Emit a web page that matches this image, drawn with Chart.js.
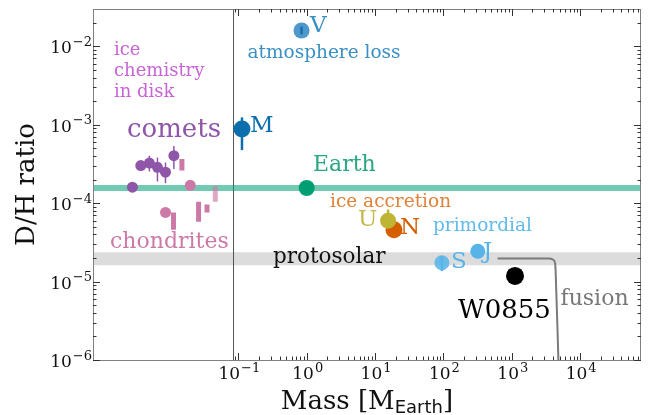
<!DOCTYPE html>
<html>
<head>
<meta charset="utf-8">
<script src="https://cdn.jsdelivr.net/npm/chart.js@4"></script>
<style>
  html, body { margin: 0; padding: 0; background: #fff; }
</style>
</head>
<body>
<canvas id="chart" width="655" height="415"></canvas>
<script>
// ---- data (mass in Earth masses, D/H ratio) ----
const cometMass = [2.82e-3, 3.74e-3, 5.0e-3, 6.56e-3, 8.6e-3, 0.0114];
const cometDH = [1.60e-4, 3.01e-4, 3.24e-4, 2.86e-4, 2.48e-4, 4.03e-4];
const cometLo = [null, null, 2.53e-4, 1.89e-4, 1.80e-4, 2.73e-4];
const cometHi = [null, null, 4.03e-4, 3.83e-4, 3.31e-4, 5.37e-4];

const chondMass = [8.6e-3, 0.0198];
const chondDH = [7.62e-5, 1.69e-4];
const chondBarMass = [0.01125, 0.01494, 0.0262, 0.0348];
const chondBarLo = [4.57e-5, 2.61e-4, 5.81e-5, 7.62e-5];
const chondBarHi = [7.62e-5, 3.65e-4, 1.04e-4, 9.6e-5];
const chondBarMass2 = [0.046];
const chondBarLo2 = [1.04e-4];
const chondBarHi2 = [1.64e-4];

const planetNames = ['V', 'M', 'Earth', 'U', 'N', 'S', 'J', 'W0855'];
const planetMass = [0.84, 0.113, 1.0, 15.5, 18.9, 95, 318, 1114];
const planetDH = [0.0159, 8.8e-4, 1.56e-4, 5.98e-5, 4.57e-5, 1.74e-5, 2.44e-5, 1.18e-5];
const planetLo = [0.0142, 4.75e-4, null, 5.0e-5, null, 1.36e-5, null, null];
const planetHi = [0.0178, 1.24e-3, null, 8.3e-5, null, 2.11e-5, null, null];

const earthDH = 1.56e-4;
const protosolarLo = 1.62e-5;
const protosolarHi = 2.36e-5;
const dividerMass = 0.085;

const fusionMass = [621, 3510, 4016, 4300, 4375, 4806];
const fusionDH = [1.97e-5, 1.97e-5, 1.9e-5, 1.72e-5, 1.36e-5, 1e-6];

const xMin = 7.48e-4, xMax = 7.76e4;
const yMin = 1e-6, yMax = 0.0299;
const xTickExp = [-1, 0, 1, 2, 3, 4];
const yTickExp = [-6, -5, -4, -3, -2];

const SERIF = '"DejaVu Serif", serif';
const SANS = '"DejaVu Sans", sans-serif';

const planetColors = ['rgba(47,134,196,0.85)', '#0b6fae', '#009e73', '#bfb535', '#d55e00',
  'rgba(86,180,233,0.85)', '#56b4e9', '#000000'];
const planetRadius = [8, 8.5, 8, 8, 8.5, 7.5, 7.5, 9];

// text labels: text, left x, visual centre y, size, colour
const notes = [
  ['ice', 114, 50, 18, '#c964d6'],
  ['chemistry', 114, 71.5, 18, '#c964d6'],
  ['in disk', 114, 92, 18, '#c964d6'],
  ['comets', 127, 130, 26, '#8e55a9'],
  ['chondrites', 110, 242.5, 22, '#cc79a7'],
  ['V', 310, 26, 23, '#3a8fc5'],
  ['atmosphere loss', 247.5, 53, 18.5, '#3a8fc5'],
  ['M', 250, 126.5, 23, '#0b6fae'],
  ['Earth', 313, 165.5, 22, '#2aa783'],
  ['ice accretion', 330, 202, 18.5, '#e0823a'],
  ['U', 358, 220, 23, '#c4b84a'],
  ['N', 400, 228, 23, '#d55e00'],
  ['primordial', 433, 226.5, 18.5, '#62b9eb'],
  ['protosolar', 273, 257.5, 21.5, '#111111'],
  ['S', 451, 262, 23, '#56b4e9'],
  ['J', 483, 252, 23, '#56b4e9'],
  ['W0855', 458, 311, 26, '#000000'],
  ['fusion', 560.5, 299, 22, '#777777']
];

function segments(xs, lo, hi) {
  const out = [];
  xs.forEach((x, i) => {
    if (lo[i] == null) return;
    out.push({x: x, y: lo[i]}, {x: x, y: hi[i]}, {x: x, y: null});
  });
  return out;
}
function pts(xs, ys) { return xs.map((x, i) => ({x: x, y: ys[i]})); }

const datasets = [];
// planets (on top)
planetNames.forEach((n, i) => {
  datasets.push({
    label: n, data: [{x: planetMass[i], y: planetDH[i]}], order: 1,
    pointRadius: planetRadius[i], pointHoverRadius: planetRadius[i],
    pointBackgroundColor: planetColors[i], pointBorderWidth: 0, showLine: false
  });
});
const errColors = ['#1d6ea8', '#0b6fae', null, '#bfb535', null, '#56b4e9', null, null];
planetNames.forEach((n, i) => {
  if (planetLo[i] == null) return;
  datasets.push({
    label: n + ' err', data: segments([planetMass[i]], [planetLo[i]], [planetHi[i]]),
    order: i === 0 ? 0 : 2, showLine: true, pointRadius: 0, borderColor: errColors[i],
    borderWidth: 2.5, spanGaps: false
  });
});
datasets.push({
  label: 'comets', data: pts(cometMass, cometDH), order: 3,
  pointRadius: 5.5, pointBackgroundColor: '#8e55a9', pointBorderWidth: 0, showLine: false
});
datasets.push({
  label: 'comet err', data: segments(cometMass, cometLo, cometHi), order: 4,
  showLine: true, pointRadius: 0, borderColor: '#8e55a9', borderWidth: 1.5, spanGaps: false
});
datasets.push({
  label: 'chondrites', data: pts(chondMass, chondDH), order: 3,
  pointRadius: 5.5, pointBackgroundColor: '#cc79a7', pointBorderWidth: 0, showLine: false
});
datasets.push({
  label: 'chondrite ranges', data: segments(chondBarMass, chondBarLo, chondBarHi), order: 4,
  showLine: true, pointRadius: 0, borderColor: '#cc79a7', borderWidth: 5,
  borderCapStyle: 'butt', spanGaps: false
});
datasets.push({
  label: 'chondrite ranges 2', data: segments(chondBarMass2, chondBarLo2, chondBarHi2), order: 4,
  showLine: true, pointRadius: 0, borderColor: 'rgba(204,121,167,0.65)', borderWidth: 5,
  borderCapStyle: 'butt', spanGaps: false
});
datasets.push({
  label: 'fusion', data: pts(fusionMass, fusionDH), order: 5,
  showLine: true, pointRadius: 0, borderColor: '#7a7a7a', borderWidth: 2,
  cubicInterpolationMode: 'monotone'
});
datasets.push({
  label: 'Earth band', data: [{x: xMin, y: earthDH}, {x: xMax, y: earthDH}], order: 6,
  showLine: true, pointRadius: 0, borderColor: 'rgba(0,158,115,0.55)', borderWidth: 6
});
datasets.push({
  label: 'divider', data: [{x: dividerMass, y: yMin}, {x: dividerMass, y: yMax}], order: 7,
  showLine: true, pointRadius: 0, borderColor: '#555555', borderWidth: 1
});
datasets.push({
  label: 'protosolar hi', data: [{x: xMin, y: protosolarHi}, {x: xMax, y: protosolarHi}], order: 9,
  showLine: true, pointRadius: 0, borderWidth: 0, borderColor: 'rgba(0,0,0,0)'
});
datasets.push({
  label: 'protosolar lo', data: [{x: xMin, y: protosolarLo}, {x: xMax, y: protosolarLo}], order: 8,
  showLine: true, pointRadius: 0, borderWidth: 0, borderColor: 'rgba(0,0,0,0)',
  fill: '-1', backgroundColor: 'rgba(150,150,150,0.33)'
});

const SUP = {'-': '\u2212', '0': '0', '1': '1', '2': '2', '3': '3', '4': '4', '5': '5', '6': '6'};
function drawPow(ctx, exp, x, y, align) {
  const sup = String(exp).split('').map(c => SUP[c]).join('');
  ctx.font = '17px ' + SERIF;
  const wb = ctx.measureText('10').width;
  ctx.font = '13px ' + SERIF;
  const ws = ctx.measureText(sup).width;
  const total = wb + 1 + ws;
  const left = align === 'right' ? x - total : x - total / 2;
  ctx.textAlign = 'left';
  ctx.textBaseline = 'alphabetic';
  ctx.font = '17px ' + SERIF;
  ctx.fillText('10', left, y);
  ctx.font = '13px ' + SERIF;
  ctx.fillText(sup, left + wb + 1, y - 7.5);
}

const decor = {
  id: 'decor',
  afterDraw(chart) {
    const ctx = chart.ctx, a = chart.chartArea;
    const xs = chart.scales.x, ys = chart.scales.y;
    ctx.save();
    // frame
    ctx.strokeStyle = '#808080';
    ctx.lineWidth = 1;
    ctx.strokeRect(a.left + 0.5, a.top + 0.5, a.right - a.left - 1, a.bottom - a.top);
    // tick marks (inward, mirrored)
    ctx.strokeStyle = '#333';
    ctx.beginPath();
    for (let d = -2; d <= 4; d++) {
      for (let m = 1; m <= 9; m++) {
        const v = m * Math.pow(10, d);
        if (v < 0.089 || v > xMax) continue;
        const px = Math.round(xs.getPixelForValue(v)) + 0.5;
        const len = m === 1 ? 7 : 3.5;
        ctx.moveTo(px, a.bottom); ctx.lineTo(px, a.bottom - len);
        ctx.moveTo(px, a.top); ctx.lineTo(px, a.top + len);
      }
    }
    for (let d = -6; d <= -2; d++) {
      for (let m = 1; m <= 9; m++) {
        const v = m * Math.pow(10, d);
        if (v < yMin || v > yMax) continue;
        const py = Math.round(ys.getPixelForValue(v)) + 0.5;
        const len = m === 1 ? 7 : 3.5;
        ctx.moveTo(a.left, py); ctx.lineTo(a.left + len, py);
        ctx.moveTo(a.right, py); ctx.lineTo(a.right - len, py);
      }
    }
    ctx.stroke();
    // tick labels
    ctx.fillStyle = '#111';
    xTickExp.forEach(e => drawPow(ctx, e, xs.getPixelForValue(Math.pow(10, e)) + 1, 379, 'center'));
    yTickExp.forEach(e => drawPow(ctx, e, 92, ys.getPixelForValue(Math.pow(10, e)) + 7, 'right'));
    // axis titles
    ctx.font = '26px ' + SERIF;
    const t1 = 'Mass [M', t3 = ']';
    const w1 = ctx.measureText(t1).width, w3 = ctx.measureText(t3).width;
    ctx.font = '18px ' + SANS;
    const w2 = ctx.measureText('Earth').width;
    let x0 = (a.left + a.right) / 2 - (w1 + w2 + w3) / 2;
    ctx.textAlign = 'left';
    ctx.textBaseline = 'alphabetic';
    ctx.font = '26px ' + SERIF;
    ctx.fillText(t1, x0, 409);
    ctx.font = '18px ' + SANS;
    ctx.fillText('Earth', x0 + w1, 412.5);
    ctx.font = '26px ' + SERIF;
    ctx.fillText(t3, x0 + w1 + w2, 409);
    ctx.save();
    ctx.translate(33.5, (a.top + a.bottom) / 2);
    ctx.rotate(-Math.PI / 2);
    ctx.textAlign = 'center';
    ctx.fillText('D/H ratio', 0, 0);
    ctx.restore();
    // annotations
    ctx.textAlign = 'left';
    ctx.textBaseline = 'middle';
    notes.forEach(n => {
      ctx.font = n[3] + 'px ' + SERIF;
      ctx.fillStyle = n[4];
      ctx.fillText(n[0], n[1], n[2]);
    });
    ctx.restore();
  }
};

new Chart(document.getElementById('chart'), {
  type: 'scatter',
  data: {datasets: datasets},
  options: {
    responsive: false,
    animation: false,
    events: [],
    layout: {padding: {left: 0, right: 14, top: 5, bottom: 0}},
    plugins: {legend: {display: false}, tooltip: {enabled: false}},
    scales: {
      x: {
        type: 'logarithmic', min: xMin, max: xMax,
        grid: {display: false}, border: {display: false},
        ticks: {display: false},
        afterFit: s => { s.height = 55; }
      },
      y: {
        type: 'logarithmic', min: yMin, max: yMax,
        grid: {display: false}, border: {display: false},
        ticks: {display: false},
        afterFit: s => { s.width = 93; }
      }
    }
  },
  plugins: [decor]
});
</script>
</body>
</html>
